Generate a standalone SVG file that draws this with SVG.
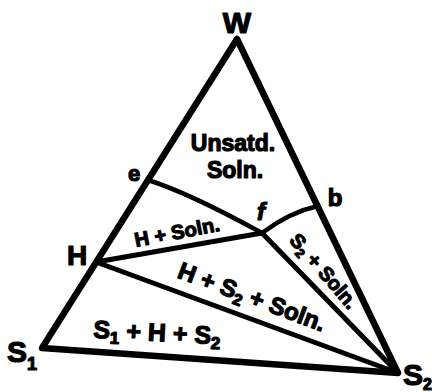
<svg xmlns="http://www.w3.org/2000/svg" width="432" height="392" viewBox="0 0 432 392">
<style>
.edge{fill:none;stroke:#000;stroke-width:6.5;stroke-linecap:round;stroke-linejoin:round}
.tie{fill:none;stroke:#000;stroke-width:5;stroke-linecap:round}
.curve{fill:none;stroke:#000;stroke-width:4.5;stroke-linecap:round}
text{font-family:"Liberation Sans",Arial,sans-serif;font-weight:bold;fill:#000;stroke:#000;stroke-width:1.2;stroke-linejoin:round}
.big{font-size:30px}
.pt{font-size:22px}
.reg{font-size:22px;text-anchor:middle}
</style>
<rect width="432" height="392" fill="#fff"/>
<g id="connectors">
<path class="edge" d="M42,348 L237,39 L398,373 Z"/>
<path class="tie" d="M96,262 L262,233"/>
<path class="tie" d="M96,262 L398,373"/>
<path class="tie" d="M262,233 L398,373"/>
<path class="curve" d="M148,180 Q189,193 262,233"/>
<path class="curve" d="M262,233 Q290,212 318,206"/>
</g>
<g id="W"><text class="big" x="237" y="33" text-anchor="middle">W</text></g>
<g id="H"><text x="77" y="265" font-size="28" text-anchor="middle">H</text></g>
<g id="S1"><text class="big" x="7" y="362">S<tspan font-size="18" dy="8">1</tspan></text></g>
<g id="S2"><text class="big" x="403" y="385">S<tspan font-size="16" dy="5">2</tspan></text></g>
<g id="e"><text class="pt" x="134" y="181" text-anchor="middle">e</text></g>
<g id="b"><text x="335" y="206" font-size="24" text-anchor="middle">b</text></g>
<g id="f"><text x="261" y="220" font-size="24" font-style="italic" text-anchor="middle">f</text></g>
<g id="regions">
<text class="reg" x="233" y="151" style="font-size:23px">Unsatd.</text>
<text class="reg" x="235" y="178" style="font-size:23px">Soln.</text>
<text class="reg" transform="translate(177,232) rotate(-11)" y="7" style="font-size:20px">H + Soln.</text>
<text class="reg" transform="translate(252,297) rotate(20.5)" y="8" style="font-size:24px">H + S<tspan font-size="16" dy="5">2</tspan><tspan dy="-5"> + Soln.</tspan></text>
<text class="reg" transform="translate(324,271) rotate(49)" y="7" style="font-size:20px">S<tspan font-size="13" dy="4">2</tspan><tspan dy="-4"> + Soln.</tspan></text>
<text class="reg" transform="translate(157,333) rotate(3)" y="8" style="font-size:25px">S<tspan font-size="17" dy="5">1</tspan><tspan dy="-5"> + H + S</tspan><tspan font-size="17" dy="5">2</tspan></text>
</g>
</svg>
